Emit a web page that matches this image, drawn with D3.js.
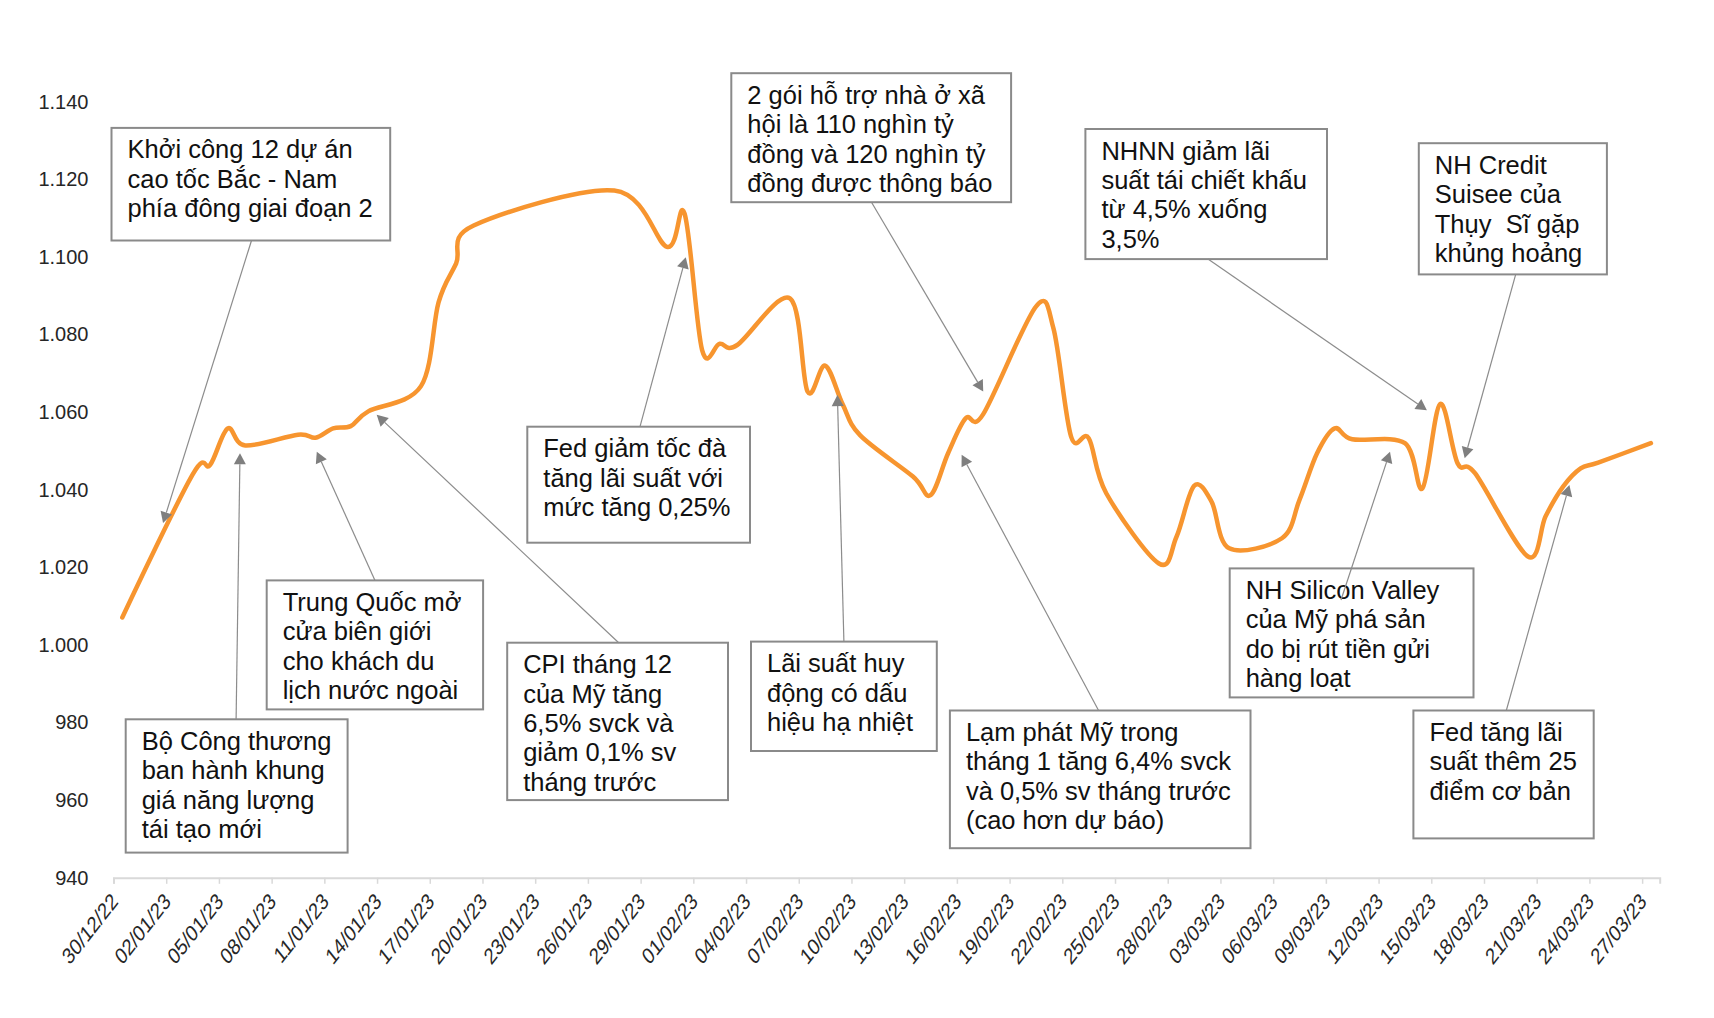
<!DOCTYPE html>
<html><head><meta charset="utf-8">
<script src="https://cdn.jsdelivr.net/npm/d3@7"></script>
<style>
body{margin:0;background:#fff}
svg{display:block}
text{font-family:"Liberation Sans",Arial,sans-serif}
</style>
</head><body>
<svg id="chart" width="1714" height="1018"></svg>
<script>
// ---------------- DATA ----------------
const tradingDates = [
  "2022-12-30","2023-01-03","2023-01-04","2023-01-05","2023-01-06","2023-01-09","2023-01-10","2023-01-11","2023-01-12","2023-01-13",
  "2023-01-16","2023-01-17","2023-01-18","2023-01-19","2023-01-27","2023-01-30","2023-01-31","2023-02-01","2023-02-02","2023-02-03",
  "2023-02-06","2023-02-07","2023-02-08","2023-02-09","2023-02-10","2023-02-13","2023-02-14","2023-02-15","2023-02-16","2023-02-17",
  "2023-02-20","2023-02-21","2023-02-22","2023-02-23","2023-02-24","2023-02-27","2023-02-28","2023-03-01","2023-03-02","2023-03-03",
  "2023-03-06","2023-03-07","2023-03-08","2023-03-09","2023-03-10","2023-03-13","2023-03-14","2023-03-15","2023-03-16","2023-03-17",
  "2023-03-20","2023-03-21","2023-03-22","2023-03-23","2023-03-24","2023-03-27"
];
const indexValues = [
  1007.1,1043.9,1046.4,1055.8,1051.4,1054.2,1053.4,1055.8,1056.4,1060.2,
  1066.7,1088.3,1098.3,1108.1,1117.1,1102.6,1111.2,1076.0,1077.6,1077.3,
  1089.3,1065.3,1072.0,1062.0,1054.0,1043.4,1038.6,1049.4,1058.4,1059.5,
  1087.2,1081.5,1053.7,1053.3,1039.1,1021.0,1027.9,1041.0,1036.9,1024.9,
  1027.5,1037.4,1049.4,1055.8,1053.0,1052.0,1040.4,1062.1,1046.8,1044.2,
  1022.8,1033.1,1040.8,1045.5,1047.0,1052.0
];
const yTickValues = [940,960,980,1000,1020,1040,1060,1080,1100,1120,1140];
const xTickLabels = [
  "30/12/22","02/01/23","05/01/23","08/01/23","11/01/23","14/01/23","17/01/23","20/01/23","23/01/23","26/01/23",
  "29/01/23","01/02/23","04/02/23","07/02/23","10/02/23","13/02/23","16/02/23","19/02/23","22/02/23","25/02/23",
  "28/02/23","03/03/23","06/03/23","09/03/23","12/03/23","15/03/23","18/03/23","21/03/23","24/03/23","27/03/23"
];
const annotationTexts = [
  ["Khởi công 12 dự án","cao tốc Bắc - Nam","phía đông giai đoạn 2"],
  ["Bộ Công thương","ban hành khung","giá năng lượng","tái tạo mới"],
  ["Trung Quốc mở","cửa biên giới","cho khách du","lịch nước ngoài"],
  ["CPI tháng 12","của Mỹ tăng","6,5% svck và","giảm 0,1% sv","tháng trước"],
  ["Fed giảm tốc đà","tăng lãi suất với","mức tăng 0,25%"],
  ["2 gói hỗ trợ nhà ở xã","hội là 110 nghìn tỷ","đồng và 120 nghìn tỷ","đồng được thông báo"],
  ["Lãi suất huy","động có dấu","hiệu hạ nhiệt"],
  ["Lạm phát Mỹ trong","tháng 1 tăng 6,4% svck","và 0,5% sv tháng trước","(cao hơn dự báo)"],
  ["NHNN giảm lãi","suất tái chiết khấu","từ 4,5% xuống","3,5%"],
  ["NH Credit","Suisee của","Thụy  Sĩ gặp","khủng hoảng"],
  ["NH Silicon Valley","của Mỹ phá sản","do bị rút tiền gửi","hàng loạt"],
  ["Fed tăng lãi","suất thêm 25","điểm cơ bản"]
];
// where each callout arrow points (date/time on the axis, index value)
const annotationTargetDates = [
  "2023-01-01T19:40","2023-01-06T04:48","2023-01-10T13:40","2023-01-13T23:30",
  "2023-01-31T13:40","2023-02-17T12:00","2023-02-09T04:48","2023-02-16T06:30",
  "2023-03-14T18:00","2023-03-16T21:36","2023-03-12T15:36","2023-03-22T20:38"
];
const annotationTargetValues = [1031.4,1049.4,1049.8,1059.3,1099.9,1065.3,1064.4,1049.0,1060.5,1048.1,1049.8,1041.2];

// ---------------- LAYOUT (pixels) ----------------
const boxRects = [ // [left, top, width, height]
  [111.5,127.9,278.7,112.6],
  [125.7,719.3,221.9,133.3],
  [266.7,580.4,216.4,129.0],
  [507.2,642.7,220.8,157.4],
  [527.3,426.7,222.7,116.0],
  [731.3,73.2,279.8,129.0],
  [751.0,641.6,185.8,109.4],
  [949.9,710.5,300.6,137.7],
  [1085.4,129.0,241.6,130.1],
  [1418.8,143.2,188.1,131.2],
  [1229.7,568.4,243.8,129.0],
  [1413.4,710.5,180.3,127.9]
];
const arrowStarts = [
  [251.5,240.5],[236.1,719.3],[375.0,580.4],[618.7,642.7],[640.0,426.7],[871.5,202.2],
  [843.9,641.6],[1098.6,710.5],[1208.0,259.1],[1515.7,274.4],[1341.0,600.0],[1506.3,710.5]
];

const W = 1714, H = 1018;
const plotLeft = 113.5, plotRight = 1659.7, plotTop = 101.7, plotBottom = 877.8;
const parseDay = d3.utcParse("%Y-%m-%d");
const parseDT = d3.utcParse("%Y-%m-%dT%H:%M");
const parseTick = d3.utcParse("%d/%m/%y");

const x = d3.scaleUtc()
  .domain([parseDay("2022-12-30"), parseDay("2023-03-28")])
  .range([plotLeft, plotRight]);
const y = d3.scaleLinear().domain([940,1140]).range([plotBottom, plotTop]);

const svg = d3.select("#chart");
svg.append("rect").attr("width",W).attr("height",H).attr("fill","#fff");

// y axis (labels only)
const fmt = d3.formatLocale({decimal:",", thousands:".", grouping:[3], currency:["",""]}).format(",.0f");
const yAxis = svg.append("g").attr("transform",`translate(${plotLeft},0)`)
  .call(d3.axisLeft(y).tickValues(yTickValues).tickSize(0).tickPadding(25).tickFormat(fmt));
yAxis.select(".domain").remove();
yAxis.selectAll("text").attr("font-size",20).attr("fill","#262626")
  .style("font-family","'Liberation Sans',Arial,sans-serif");

// x axis
const xAxis = svg.append("g").attr("transform",`translate(0,${plotBottom})`)
  .call(d3.axisBottom(x).tickValues(xTickLabels.map(parseTick)).tickSize(6).tickFormat(d3.utcFormat("%d/%m/%y")));
xAxis.select(".domain").attr("stroke","#d9d9d9").attr("stroke-width",2);
xAxis.selectAll(".tick line").attr("stroke","#d9d9d9").attr("stroke-width",1.5);
xAxis.selectAll(".tick text")
  .attr("font-size",18).attr("fill","#262626")
  .style("font-family","'Liberation Sans',Arial,sans-serif")
  .attr("text-anchor","end")
  .attr("y",0).attr("dy",0)
  .attr("transform","translate(5,25) scale(1,1.27) rotate(-45)");

// line
const series = tradingDates.map((d,i)=>({date:parseDay(d), value:indexValues[i]}));
const line = d3.line()
  .x(d=>x(d3.utcHour.offset(d.date,12)))
  .y(d=>y(d.value))
  .curve(d3.curveCardinal.tension(0));
svg.append("path").datum(series)
  .attr("d",line).attr("fill","none")
  .attr("stroke","#F7952F").attr("stroke-width",4.5)
  .attr("stroke-linejoin","round").attr("stroke-linecap","round");

// annotation boxes
const ann = svg.append("g");
annotationTexts.forEach((lines,i)=>{
  const [bx,by,bw,bh] = boxRects[i];
  ann.append("rect").attr("x",bx).attr("y",by).attr("width",bw).attr("height",bh)
    .attr("fill","#fff").attr("stroke","#8a8a8a").attr("stroke-width",2);
  const t = ann.append("text").attr("font-size",25.5).attr("fill","#111");
  lines.forEach((s,j)=>{
    t.append("tspan").attr("x",bx+16).attr("y",by+30.5+j*29.4).attr("xml:space","preserve").text(s);
  });
});

// arrows
annotationTexts.forEach((_,i)=>{
  const [sx,sy] = arrowStarts[i];
  const tx = x(parseDT(annotationTargetDates[i])), ty = y(annotationTargetValues[i]);
  const dx = tx-sx, dy = ty-sy, len = Math.hypot(dx,dy);
  const ux = dx/len, uy = dy/len, L = 11, hw = 6;
  const bxp = tx-ux*L, byp = ty-uy*L;
  ann.append("line").attr("x1",sx).attr("y1",sy).attr("x2",bxp).attr("y2",byp)
    .attr("stroke","#8c8c8c").attr("stroke-width",1.2);
  ann.append("path")
    .attr("d",`M${tx},${ty}L${bxp-uy*hw},${byp+ux*hw}L${bxp+uy*hw},${byp-ux*hw}Z`)
    .attr("fill","#7f7f7f");
});
</script>
</body></html>
